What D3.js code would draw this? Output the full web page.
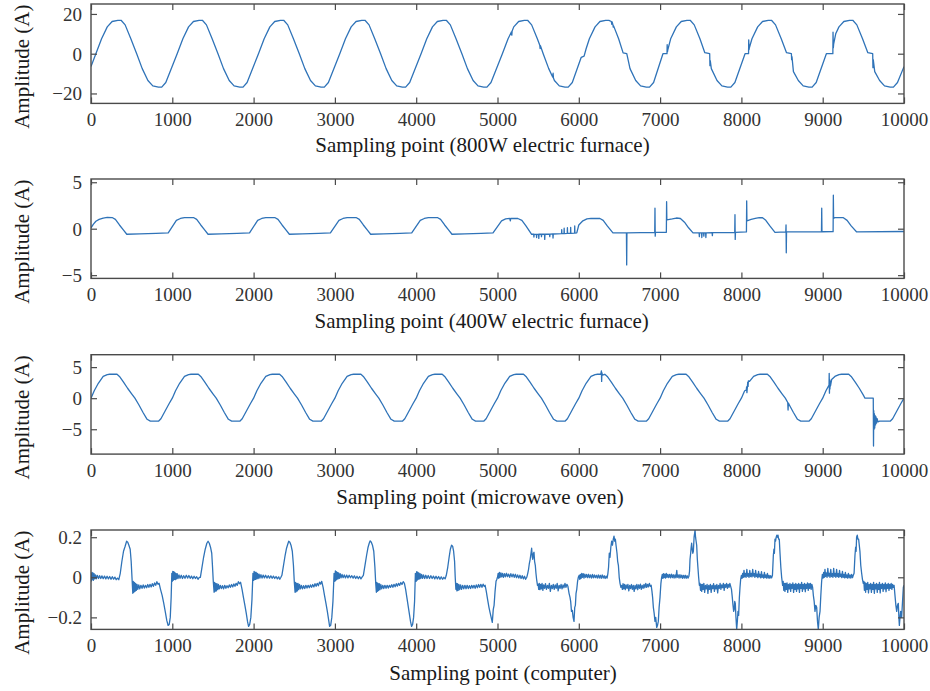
<!DOCTYPE html>
<html><head><meta charset="utf-8">
<script src="https://cdn.jsdelivr.net/npm/d3@7"></script>
<style>body{margin:0;background:#fff}svg{display:block}</style>
</head><body>
<svg id="chart" width="930" height="691"></svg>
<script>
// ---------- DATA ----------
const xTicks = [0,1000,2000,3000,4000,5000,6000,7000,8000,9000,10000];
const yLabel = "Amplitude (A)";
const xTitles = ["Sampling point (800W electric furnace)","Sampling point (400W electric furnace)","Sampling point (microwave oven)","Sampling point (computer)"];
const yTicks1 = [-20,0,20];
const yTicks2 = [-5,0,5];
const yTicks3 = [-5,0,5];
const yTicks4 = [-0.2,0,0.2];
const yDomains = [[-25,25],[-5.35,5.35],[-9,7],[-0.26,0.236]];

const furnace800 = [
[0,-6.5],[60,0],[130,7.5],[200,13.5],[260,16.2],[330,16.8],[370,16.8],[420,14.5],[490,7.5],[562,0],[630,-7.5],[700,-13.5],[760,-16.2],[830,-16.8],[870,-16.8],[920,-14.5],
[1060,0],[1130,7.5],[1200,13.5],[1260,16.2],[1330,16.8],[1370,16.8],[1420,14.5],[1490,7.5],[1562,0],[1630,-7.5],[1700,-13.5],[1760,-16.2],[1830,-16.8],[1870,-16.8],[1920,-14.5],
[2060,0],[2130,7.5],[2200,13.5],[2260,16.2],[2330,16.8],[2370,16.8],[2420,14.5],[2490,7.5],[2562,0],[2630,-7.5],[2700,-13.5],[2760,-16.2],[2830,-16.8],[2870,-16.8],[2920,-14.5],
[3060,0],[3130,7.5],[3200,13.5],[3260,16.2],[3330,16.8],[3370,16.8],[3420,14.5],[3490,7.5],[3562,0],[3630,-7.5],[3700,-13.5],[3760,-16.2],[3830,-16.8],[3870,-16.8],[3920,-14.5],
[4060,0],[4130,7.5],[4200,13.5],[4260,16.2],[4330,16.8],[4370,16.8],[4420,14.5],[4490,7.5],[4562,0],[4630,-7.5],[4700,-13.5],[4760,-16.2],[4830,-16.8],[4870,-16.8],[4920,-14.5],
[5060,0],[5130,7.5],[5172,11],[5176,9.3],[5180,11.4],[5200,13.5],[5260,16.2],[5330,16.8],[5370,16.8],[5420,14.5],[5490,7.5],[5520,4.3],[5524,2.6],[5528,4],[5562,0],[5630,-7.5],[5680,-11.8],[5684,-9.8],[5688,-12.2],[5700,-13.5],[5760,-16.2],[5830,-16.8],[5870,-16.8],[5920,-14.5],
[6030,-1.8],[6065,-1.2],[6090,2.5],[6130,7.5],[6200,13.5],[6260,16.2],[6330,16.8],[6370,16.8],[6400,16.2],[6405,14.8],[6410,16],[6420,14.5],[6424,13.4],[6428,14],[6490,7.5],[6545,0.4],[6590,0],[6630,-7.5],[6700,-13.5],[6760,-16.2],[6830,-16.8],[6870,-16.8],[6920,-14.5],
[7035,0],[7085,0],[7087,4.5],[7091,1],[7095,2],[7130,7.5],[7200,13.5],[7260,16.2],[7330,16.8],[7370,16.8],[7420,14.5],[7490,7.5],[7550,0.5],[7610,0],[7613,-6],[7617,-3.5],[7630,-7.5],[7700,-13.5],[7760,-16.2],[7830,-16.8],[7870,-16.8],[7920,-14.5],
[8045,0],[8088,0],[8090,7],[8094,2],[8098,3],[8130,7.5],[8200,13.5],[8260,16.2],[8330,16.8],[8370,16.8],[8420,14.5],[8490,7.5],[8555,0.5],[8615,0],[8618,-3],[8622,-1.5],[8640,-9],[8700,-13.5],[8760,-16.2],[8830,-16.8],[8870,-16.8],[8920,-14.5],
[9045,0],[9125,0],[9127,10.8],[9131,3],[9135,5],[9160,10],[9200,13.5],[9260,16.2],[9330,16.8],[9370,16.8],[9420,14.5],[9490,7.5],[9555,0.5],[9615,0],[9618,-7],[9622,-3],[9640,-9],[9700,-13.5],[9760,-16.2],[9830,-16.8],[9870,-16.8],[9920,-14.5],[10000,-6.5]
];

const furnace400 = [
[0,0.1],[30,0.5],[60,0.8],[100,1.0],[150,1.15],[200,1.22],[260,1.2],[300,1.0],[350,0.4],[400,-0.15],[440,-0.6],[600,-0.56],[800,-0.5],[950,-0.45],
[1050,0.9],[1100,1.1],[1150,1.2],[1260,1.2],[1300,1.0],[1350,0.4],[1400,-0.15],[1440,-0.6],[1600,-0.56],[1800,-0.5],[1950,-0.45],
[2050,0.9],[2100,1.1],[2150,1.2],[2260,1.2],[2300,1.0],[2350,0.4],[2400,-0.15],[2440,-0.6],[2600,-0.56],[2800,-0.5],[2945,-0.45],
[3050,0.9],[3100,1.1],[3150,1.2],[3260,1.2],[3300,1.0],[3350,0.4],[3400,-0.15],[3440,-0.6],[3600,-0.56],[3800,-0.5],[3945,-0.45],
[4050,0.9],[4100,1.1],[4150,1.2],[4260,1.2],[4300,1.0],[4350,0.4],[4400,-0.15],[4440,-0.6],[4600,-0.56],[4800,-0.5],[4945,-0.45],
[5050,0.85],[5100,1.05],[5150,1.12],[5158,0.85],[5162,1.12],[5250,1.1],[5300,0.9],[5350,0.3],[5420,-0.6],
[5445,-0.6],[5448,-0.9],[5451,-0.6],[5478,-0.62],[5481,-0.95],[5484,-0.62],[5505,-0.6],[5508,-1.05],[5511,-0.6],[5538,-0.6],[5541,-0.85],[5544,-0.6],[5578,-0.6],[5581,-1.15],[5584,-0.6],[5640,-0.58],[5643,-0.85],[5646,-0.58],[5680,-0.57],[5683,-1.0],[5686,-0.57],
[5788,-0.52],[5790,-0.1],[5792,-0.52],[5818,-0.52],[5820,0.05],[5822,-0.52],[5858,-0.5],[5860,0.1],[5862,-0.5],[5898,-0.5],[5900,0.15],[5902,-0.5],[5948,-0.48],[5950,0.3],[5952,-0.48],[5975,-0.45],
[6000,0.4],[6050,0.85],[6100,1.05],[6150,1.12],[6260,1.1],[6300,0.9],[6350,0.3],[6420,-0.45],
[6586,-0.45],[6589,-3.9],[6592,-0.45],[6934,-0.4],[6937,2.2],[6940,-0.8],[6943,-0.4],[7077,-0.38],[7080,2.9],[7083,0.95],[7150,1.05],[7200,1.15],[7250,1.1],[7300,0.7],[7350,0.1],[7405,-0.45],
[7480,-0.45],[7483,-0.85],[7486,-0.45],[7510,-0.45],[7513,-0.95],[7516,-0.45],[7535,-0.45],[7538,-0.8],[7541,-0.45],[7560,-0.45],[7563,-0.95],[7566,-0.45],[7640,-0.42],[7643,-0.75],[7646,-0.42],
[7918,-0.4],[7921,1.5],[7924,-1.15],[7927,-0.4],[8062,-0.35],[8065,3.0],[8068,0.85],[8120,1.0],[8170,1.1],[8220,1.2],[8260,1.18],[8300,0.9],[8350,0.3],[8413,-0.4],
[8546,-0.35],[8549,0.4],[8552,-2.6],[8555,-0.35],[8985,-0.33],[8988,2.2],[8991,-0.33],[9128,-0.32],[9131,3.6],[9134,1.1],[9150,1.2],[9250,1.2],[9300,0.9],[9350,0.3],[9418,-0.35],[10000,-0.3]
];

const microwave = [
[0,0],[40,1.2],[90,2.4],[150,3.5],[200,3.8],[230,3.85],[320,3.85],[350,3.5],[400,2.6],[450,1.6],[500,0.7],[540,0],[590,-1.1],[640,-2.3],[690,-3.4],[730,-3.7],[830,-3.7],[860,-3.3],[910,-2.1],[960,-0.9],
[1000,0],[1040,1.2],[1090,2.4],[1150,3.5],[1200,3.8],[1230,3.85],[1320,3.85],[1350,3.5],[1400,2.6],[1450,1.6],[1500,0.7],[1540,0],[1590,-1.1],[1640,-2.3],[1690,-3.4],[1730,-3.7],[1830,-3.7],[1860,-3.3],[1910,-2.1],[1960,-0.9],
[2000,0],[2040,1.2],[2090,2.4],[2150,3.5],[2200,3.8],[2230,3.85],[2320,3.85],[2350,3.5],[2400,2.6],[2450,1.6],[2500,0.7],[2540,0],[2590,-1.1],[2640,-2.3],[2690,-3.4],[2730,-3.7],[2830,-3.7],[2860,-3.3],[2910,-2.1],[2960,-0.9],
[3000,0],[3040,1.2],[3090,2.4],[3150,3.5],[3200,3.8],[3230,3.85],[3320,3.85],[3350,3.5],[3400,2.6],[3450,1.6],[3500,0.7],[3540,0],[3590,-1.1],[3640,-2.3],[3690,-3.4],[3730,-3.7],[3830,-3.7],[3860,-3.3],[3910,-2.1],[3960,-0.9],
[4000,0],[4040,1.2],[4090,2.4],[4150,3.5],[4200,3.8],[4230,3.85],[4320,3.85],[4350,3.5],[4400,2.6],[4450,1.6],[4500,0.7],[4540,0],[4590,-1.1],[4640,-2.3],[4690,-3.4],[4730,-3.7],[4830,-3.7],[4860,-3.3],[4910,-2.1],[4960,-0.9],
[5000,0],[5040,1.2],[5090,2.4],[5150,3.5],[5200,3.8],[5230,3.85],[5320,3.85],[5350,3.5],[5400,2.6],[5450,1.6],[5500,0.7],[5540,0],[5590,-1.1],[5640,-2.3],[5690,-3.4],[5730,-3.7],[5830,-3.7],[5860,-3.3],[5910,-2.1],[5960,-0.9],
[6000,0],[6040,1.2],[6090,2.4],[6150,3.5],[6200,3.8],[6230,3.85],[6270,3.85],[6278,4.4],[6281,2.7],[6284,4.1],[6290,3.7],[6320,3.85],[6350,3.5],[6400,2.6],[6450,1.6],[6500,0.7],[6540,0],[6590,-1.1],[6640,-2.3],[6690,-3.4],[6730,-3.7],[6830,-3.7],[6860,-3.3],[6910,-2.1],[6960,-0.9],
[7000,0],[7040,1.2],[7090,2.4],[7150,3.5],[7200,3.8],[7230,3.85],[7320,3.85],[7350,3.5],[7400,2.6],[7450,1.6],[7500,0.7],[7540,0],[7590,-1.1],[7640,-2.3],[7690,-3.4],[7730,-3.7],[7830,-3.7],[7860,-3.3],[7910,-2.1],[7960,-0.9],
[8000,0],[8040,1.2],[8060,1.3],[8064,1.8],[8068,0.9],[8078,2.6],[8082,1.9],[8086,2.8],[8100,2.7],[8150,3.5],[8200,3.8],[8230,3.85],[8320,3.85],[8350,3.5],[8400,2.6],[8450,1.6],[8500,0.7],[8540,0],[8570,-0.7],[8574,-1.9],[8578,-0.8],[8590,-1.1],[8640,-2.3],[8690,-3.4],[8730,-3.7],[8830,-3.7],[8860,-3.3],[8910,-2.1],[8960,-0.9],
[9000,0],[9040,1.2],[9078,2.1],[9080,4.0],[9083,0.8],[9086,3],[9089,1.5],[9092,2.8],[9096,2],[9110,3],[9150,3.5],[9200,3.8],[9230,3.85],[9320,3.85],[9350,3.5],[9400,2.6],[9450,1.6],[9500,0.5],[9520,0],[9622,0],[9625,-7.7],[9628,-2],[9632,-5],[9636,-2.5],[9640,-4.8],[9645,-2.8],[9650,-4.3],[9656,-3],[9662,-4],[9670,-3.3],[9680,-3.8],[9700,-3.7],[9830,-3.7],[9860,-3.3],[9910,-2.1],[9960,-0.9],[10000,0]
];

const computer = [
[0,0.02],[6,-0.018],[12,0.025],[18,-0.012],[24,0.022],[30,-0.015],[38,0.018],[46,-0.008],[55,0.012],[65,-0.008],[78,0.01],[92,-0.006],[106,0.008],[120,-0.006],[135,0.007],[150,-0.007],[166,0.006],[182,-0.008],[198,0.005],[214,-0.008],[230,0.004],[246,-0.01],[262,0.003],[278,-0.009],[294,0.001],[310,-0.012],[326,-0.004],[342,-0.012],
[360,0.02],[380,0.08],[400,0.13],[420,0.155],[438,0.18],[452,0.175],[466,0.16],[482,0.14],[494,0.08],[504,0.0],[514,-0.08],
[520,-0.02],[527,-0.075],[534,-0.025],[541,-0.07],[549,-0.03],[557,-0.065],[566,-0.035],[576,-0.06],[588,-0.038],[600,-0.058],[614,-0.04],[628,-0.055],[642,-0.038],[656,-0.054],[670,-0.04],[684,-0.052],[698,-0.036],[712,-0.05],[726,-0.035],[740,-0.048],[754,-0.032],[768,-0.045],[782,-0.028],[796,-0.04],[810,-0.022],[824,-0.035],[838,-0.03],
[855,-0.06],[875,-0.09],[895,-0.13],[915,-0.175],[932,-0.215],[948,-0.24],[962,-0.235],[975,-0.2],[986,-0.1],[994,0.02],
[1000,-0.02],[1006,0.03],[1012,-0.015],[1018,0.028],[1024,-0.01],[1030,0.025],[1037,-0.012],[1044,0.02],[1052,-0.008],[1060,0.018],[1070,-0.006],[1082,0.012],[1095,-0.005],[1110,0.01],[1125,-0.006],[1140,0.008],[1156,-0.005],[1172,0.01],[1188,-0.004],[1204,0.009],[1220,-0.005],[1236,0.006],[1252,-0.007],[1268,0.005],[1284,-0.006],[1300,0.003],[1316,-0.01],[1332,0.0],
[1345,0.0],[1365,0.05],[1385,0.1],[1405,0.14],[1425,0.17],[1440,0.18],[1455,0.17],[1470,0.15],[1485,0.12],[1495,0.05],[1504,-0.02],[1514,-0.075],
[1520,-0.025],[1527,-0.07],[1534,-0.03],[1542,-0.068],[1550,-0.032],[1559,-0.062],[1568,-0.036],[1578,-0.058],[1590,-0.04],[1603,-0.056],[1617,-0.042],[1631,-0.058],[1645,-0.04],[1659,-0.055],[1673,-0.042],[1687,-0.052],[1701,-0.038],[1715,-0.05],[1729,-0.036],[1743,-0.048],[1757,-0.033],[1771,-0.045],[1785,-0.03],[1799,-0.04],[1813,-0.022],[1827,-0.032],[1840,-0.025],
[1858,-0.06],[1875,-0.1],[1893,-0.14],[1910,-0.18],[1925,-0.22],[1938,-0.245],[1952,-0.235],[1966,-0.2],[1980,-0.11],[1992,0.02],
[2000,-0.015],[2006,0.03],[2012,-0.012],[2018,0.026],[2025,-0.01],[2032,0.024],[2040,-0.008],[2048,0.02],[2057,-0.006],[2067,0.016],[2078,-0.004],[2090,0.013],[2104,-0.004],[2118,0.011],[2133,-0.003],[2148,0.01],[2164,-0.004],[2180,0.008],[2196,-0.004],[2212,0.007],[2228,-0.005],[2244,0.006],[2260,-0.006],[2276,0.004],[2292,-0.008],[2308,0.002],[2322,-0.01],[2336,0.0],
[2348,0.01],[2368,0.06],[2388,0.11],[2405,0.145],[2420,0.165],[2432,0.18],[2446,0.175],[2460,0.16],[2476,0.13],[2490,0.06],[2500,-0.02],[2510,-0.075],
[2516,-0.025],[2523,-0.072],[2530,-0.03],[2538,-0.068],[2546,-0.03],[2555,-0.062],[2565,-0.035],[2576,-0.058],[2588,-0.04],[2601,-0.058],[2615,-0.042],[2629,-0.056],[2643,-0.04],[2657,-0.054],[2671,-0.04],[2685,-0.052],[2699,-0.038],[2713,-0.05],[2727,-0.036],[2741,-0.048],[2755,-0.032],[2769,-0.045],[2783,-0.03],[2797,-0.042],[2811,-0.024],[2825,-0.034],[2838,-0.02],
[2855,-0.05],[2872,-0.09],[2890,-0.13],[2907,-0.17],[2922,-0.21],[2935,-0.245],[2948,-0.24],[2962,-0.2],[2976,-0.12],[2990,0.02],
[3000,-0.02],[3006,0.032],[3012,-0.015],[3018,0.028],[3024,-0.01],[3031,0.025],[3038,-0.008],[3046,0.022],[3055,-0.005],[3065,0.018],[3076,-0.003],[3088,0.014],[3101,-0.002],[3115,0.012],[3130,-0.003],[3145,0.011],[3160,-0.003],[3176,0.01],[3192,-0.002],[3208,0.008],[3224,-0.004],[3240,0.007],[3256,-0.006],[3272,0.005],[3288,-0.007],[3304,0.004],[3320,-0.008],[3336,0.002],
[3350,0.01],[3370,0.06],[3390,0.11],[3408,0.15],[3422,0.17],[3434,0.182],[3448,0.175],[3462,0.16],[3478,0.13],[3492,0.05],[3502,-0.03],[3510,-0.075],
[3516,-0.025],[3523,-0.07],[3530,-0.03],[3538,-0.066],[3546,-0.032],[3555,-0.062],[3565,-0.036],[3576,-0.058],[3588,-0.04],[3601,-0.056],[3615,-0.04],[3629,-0.055],[3643,-0.04],[3657,-0.054],[3671,-0.04],[3685,-0.05],[3699,-0.037],[3713,-0.05],[3727,-0.035],[3741,-0.047],[3755,-0.032],[3769,-0.044],[3783,-0.03],[3797,-0.04],[3811,-0.026],[3825,-0.036],[3840,-0.022],[3855,-0.03],
[3870,-0.06],[3885,-0.1],[3900,-0.14],[3915,-0.18],[3930,-0.22],[3943,-0.245],[3956,-0.235],[3968,-0.2],[3980,-0.12],[3990,0.02],
[4000,-0.02],[4006,0.028],[4012,-0.014],[4018,0.026],[4025,-0.01],[4032,0.022],[4040,-0.008],[4048,0.018],[4057,-0.006],[4067,0.015],[4078,-0.005],[4090,0.012],[4104,-0.006],[4118,0.01],[4133,-0.006],[4148,0.009],[4164,-0.006],[4180,0.008],[4196,-0.006],[4212,0.006],[4228,-0.008],[4244,0.005],[4260,-0.008],[4276,0.004],[4292,-0.01],[4308,0.002],[4324,-0.01],[4340,0.0],[4356,-0.008],
[4370,0.01],[4388,0.05],[4405,0.1],[4420,0.14],[4435,0.16],[4448,0.155],[4460,0.13],[4472,0.08],[4480,0.0],[4488,-0.06],
[4494,-0.03],[4501,-0.068],[4508,-0.032],[4516,-0.065],[4525,-0.035],[4535,-0.062],[4546,-0.038],[4558,-0.06],[4571,-0.04],[4585,-0.058],[4599,-0.04],[4613,-0.057],[4627,-0.04],[4641,-0.056],[4655,-0.042],[4669,-0.056],[4683,-0.04],[4697,-0.054],[4711,-0.04],[4725,-0.055],[4739,-0.038],[4753,-0.052],[4767,-0.036],[4781,-0.05],[4795,-0.035],[4809,-0.05],[4823,-0.034],[4837,-0.046],[4848,-0.04],
[4862,-0.07],[4878,-0.11],[4895,-0.15],[4908,-0.175],[4922,-0.2],[4936,-0.225],[4948,-0.16],[4958,-0.14],[4970,-0.07],[4982,-0.02],[4992,-0.01],
[5000,0.0],[5008,0.02],[5016,-0.005],[5024,0.025],[5032,0.0],[5042,0.022],[5052,0.002],[5062,0.02],[5073,0.0],[5085,0.018],[5097,0.002],[5110,0.02],[5123,0.003],[5136,0.016],[5150,0.0],[5164,0.018],[5178,0.002],[5192,0.016],[5206,0.0],[5220,0.015],[5234,-0.002],[5248,0.012],[5262,-0.004],[5276,0.01],[5290,-0.006],[5304,0.008],[5318,-0.008],[5332,0.005],[5346,-0.01],[5360,0.0],
[5372,0.02],[5382,0.04],[5392,0.07],[5402,0.09],[5412,0.12],[5420,0.145],[5428,0.1],[5434,0.09],[5442,0.12],[5449,0.125],[5456,0.08],[5465,0.06],[5473,0.02],[5481,-0.01],[5492,-0.04],
[5500,-0.035],[5507,-0.06],[5514,-0.03],[5522,-0.062],[5530,-0.035],[5539,-0.058],[5548,-0.03],[5558,-0.065],[5568,-0.038],[5579,-0.055],[5590,-0.032],[5602,-0.06],[5614,-0.04],[5626,-0.055],[5638,-0.03],[5650,-0.07],[5662,-0.04],[5674,-0.056],[5686,-0.035],[5698,-0.06],[5710,-0.038],[5722,-0.055],[5734,-0.03],[5746,-0.068],[5758,-0.04],[5770,-0.055],[5782,-0.035],[5794,-0.058],[5806,-0.038],[5818,-0.052],[5830,-0.03],[5842,-0.05],[5854,-0.035],[5866,-0.045],
[5880,-0.08],[5892,-0.1],[5900,-0.12],[5910,-0.17],[5920,-0.165],[5930,-0.2],[5941,-0.22],[5950,-0.15],[5958,-0.14],[5966,-0.08],[5975,-0.06],[5985,-0.02],[5994,0.0],
[6005,0.01],[6012,-0.01],[6020,0.015],[6028,-0.005],[6036,0.02],[6045,0.0],[6054,0.018],[6064,-0.004],[6074,0.016],[6085,0.0],[6096,0.014],[6108,-0.002],[6120,0.015],[6132,-0.002],[6144,0.012],[6156,-0.004],[6168,0.014],[6180,-0.003],[6192,0.012],[6204,-0.002],[6216,0.01],[6228,-0.004],[6240,0.012],[6252,-0.004],[6264,0.01],[6276,-0.005],[6288,0.012],[6300,-0.004],[6312,0.008],[6324,-0.006],[6336,0.006],[6348,-0.004],
[6358,0.02],[6366,0.05],[6375,0.12],[6384,0.1],[6394,0.15],[6404,0.18],[6414,0.16],[6424,0.19],[6433,0.205],[6442,0.18],[6450,0.19],[6458,0.16],[6470,0.12],[6478,0.08],[6487,0.06],[6497,0.0],[6507,-0.03],[6518,-0.05],
[6528,-0.04],[6536,-0.06],[6544,-0.032],[6553,-0.058],[6562,-0.035],[6572,-0.062],[6582,-0.038],[6593,-0.055],[6604,-0.035],[6615,-0.068],[6626,-0.04],[6637,-0.056],[6648,-0.036],[6659,-0.06],[6670,-0.04],[6681,-0.07],[6692,-0.04],[6703,-0.058],[6714,-0.035],[6725,-0.062],[6736,-0.038],[6747,-0.055],[6758,-0.034],[6769,-0.06],[6780,-0.04],[6791,-0.055],[6802,-0.035],[6813,-0.052],[6824,-0.03],[6835,-0.05],[6846,-0.035],[6857,-0.048],[6868,-0.03],[6879,-0.045],[6890,-0.04],
[6900,-0.07],[6908,-0.1],[6917,-0.15],[6927,-0.18],[6937,-0.22],[6946,-0.2],[6958,-0.25],[6968,-0.24],[6978,-0.22],[6988,-0.15],[6999,-0.1],[7010,-0.03],[7019,0.0],
[7027,0.015],[7034,-0.005],[7042,0.018],[7050,-0.002],[7058,0.016],[7067,-0.004],[7076,0.02],[7086,0.0],[7096,0.015],[7106,-0.002],[7117,0.014],[7128,-0.003],[7139,0.016],[7150,-0.002],[7161,0.013],[7172,-0.004],[7183,0.012],[7194,-0.003],[7205,0.035],[7212,0.0],[7222,0.012],[7233,-0.004],[7244,0.013],[7255,-0.003],[7266,0.011],[7277,-0.005],[7288,0.01],[7299,-0.004],[7310,0.01],[7321,-0.005],[7332,0.008],[7343,-0.004],[7354,0.005],
[7362,0.03],[7368,0.09],[7376,0.12],[7382,0.15],[7388,0.17],[7395,0.14],[7402,0.12],[7409,0.13],[7418,0.2],[7425,0.22],[7430,0.235],[7436,0.2],[7443,0.18],[7450,0.16],[7458,0.09],[7465,0.05],[7474,0.0],[7483,-0.04],
[7490,-0.03],[7497,-0.065],[7504,-0.035],[7512,-0.07],[7520,-0.035],[7529,-0.06],[7538,-0.03],[7548,-0.075],[7558,-0.04],[7568,-0.058],[7578,-0.035],[7588,-0.08],[7598,-0.04],[7608,-0.06],[7618,-0.035],[7628,-0.075],[7638,-0.04],[7648,-0.056],[7658,-0.032],[7668,-0.07],[7678,-0.04],[7688,-0.058],[7698,-0.035],[7708,-0.078],[7718,-0.04],[7728,-0.055],[7738,-0.03],[7748,-0.06],[7758,-0.038],[7768,-0.052],[7778,-0.03],[7788,-0.065],[7798,-0.035],[7808,-0.05],[7818,-0.03],[7828,-0.055],[7838,-0.035],[7848,-0.05],[7858,-0.03],[7868,-0.045],[7878,-0.06],
[7888,-0.1],[7897,-0.14],[7905,-0.17],[7912,-0.16],[7918,-0.12],[7925,-0.13],[7933,-0.2],[7942,-0.26],[7950,-0.22],[7958,-0.17],[7966,-0.19],[7975,-0.1],[7983,-0.05],[7991,-0.01],
[8000,0.01],[8008,-0.005],[8016,0.02],[8024,0.0],[8032,0.035],[8040,0.002],[8049,0.02],[8058,0.0],[8067,0.04],[8076,0.005],[8085,0.018],[8094,0.0],[8103,0.035],[8112,0.004],[8121,0.02],[8130,0.002],[8139,0.04],[8148,0.006],[8157,0.018],[8166,0.0],[8175,0.035],[8184,0.004],[8193,0.016],[8202,-0.002],[8211,0.03],[8220,0.002],[8229,0.015],[8238,-0.003],[8247,0.028],[8256,0.0],[8265,0.012],[8274,-0.004],[8283,0.025],[8292,-0.002],[8301,0.012],[8310,-0.004],[8320,0.02],[8330,-0.004],[8340,0.01],[8350,-0.005],[8360,0.008],[8372,-0.003],[8382,0.01],
[8393,0.11],[8400,0.14],[8406,0.12],[8413,0.19],[8420,0.18],[8428,0.2],[8436,0.21],[8442,0.2],[8450,0.21],[8458,0.19],[8466,0.19],[8475,0.12],[8485,0.05],[8495,0.0],[8507,-0.04],
[8514,-0.02],[8521,-0.065],[8528,-0.03],[8536,-0.07],[8544,-0.03],[8552,-0.06],[8561,-0.028],[8570,-0.075],[8579,-0.035],[8588,-0.058],[8597,-0.03],[8606,-0.07],[8615,-0.035],[8624,-0.055],[8633,-0.028],[8642,-0.075],[8651,-0.035],[8660,-0.06],[8669,-0.03],[8678,-0.07],[8687,-0.035],[8696,-0.058],[8705,-0.03],[8714,-0.075],[8723,-0.035],[8732,-0.055],[8741,-0.025],[8750,-0.07],[8759,-0.035],[8768,-0.058],[8777,-0.03],[8786,-0.072],[8795,-0.035],[8804,-0.055],[8813,-0.028],[8822,-0.065],[8831,-0.032],[8840,-0.055],[8849,-0.03],[8858,-0.06],[8867,-0.035],[8876,-0.05],
[8885,-0.09],[8895,-0.12],[8905,-0.17],[8915,-0.14],[8926,-0.15],[8936,-0.22],[8946,-0.26],[8956,-0.2],[8967,-0.17],[8977,-0.09],[8987,-0.02],
[8996,0.015],[9004,-0.004],[9012,0.025],[9020,0.0],[9028,0.04],[9036,0.004],[9045,0.022],[9054,0.0],[9063,0.045],[9072,0.006],[9081,0.02],[9090,0.0],[9099,0.04],[9108,0.004],[9117,0.018],[9126,0.0],[9135,0.045],[9144,0.005],[9153,0.02],[9162,0.0],[9171,0.04],[9180,0.004],[9189,0.018],[9198,0.0],[9207,0.035],[9216,0.003],[9225,0.016],[9234,-0.002],[9243,0.03],[9252,0.0],[9261,0.014],[9270,-0.003],[9279,0.025],[9288,-0.002],[9297,0.012],[9306,-0.004],[9316,0.02],[9326,-0.003],[9336,0.012],[9346,-0.004],[9356,0.015],[9366,-0.002],[9376,0.01],[9386,0.02],
[9397,0.11],[9405,0.15],[9411,0.13],[9417,0.2],[9425,0.21],[9433,0.19],[9442,0.19],[9450,0.16],[9458,0.13],[9468,0.06],[9479,0.02],[9489,-0.01],[9499,-0.03],
[9506,-0.02],[9513,-0.065],[9520,-0.025],[9528,-0.075],[9536,-0.03],[9545,-0.06],[9554,-0.025],[9563,-0.078],[9572,-0.035],[9581,-0.058],[9590,-0.03],[9599,-0.075],[9608,-0.035],[9617,-0.06],[9626,-0.025],[9635,-0.08],[9644,-0.035],[9653,-0.058],[9662,-0.03],[9671,-0.075],[9680,-0.035],[9689,-0.06],[9698,-0.025],[9707,-0.078],[9716,-0.035],[9725,-0.055],[9734,-0.03],[9743,-0.07],[9752,-0.035],[9761,-0.058],[9770,-0.028],[9779,-0.072],[9788,-0.035],[9797,-0.055],[9806,-0.03],[9815,-0.065],[9824,-0.035],[9833,-0.055],[9842,-0.03],[9851,-0.06],[9860,-0.035],[9869,-0.05],[9878,-0.04],
[9889,-0.09],[9900,-0.14],[9910,-0.17],[9920,-0.14],[9930,-0.13],[9937,-0.2],[9943,-0.24],[9951,-0.2],[9959,-0.17],[9965,-0.2],[9971,-0.2],[9982,-0.12],[9992,-0.05],[10000,-0.04]
];

// ---------- LAYOUT ----------
const series = [furnace800, furnace400, microwave, computer];
const yTickSets = [yTicks1, yTicks2, yTicks3, yTicks4];
const panelTops = [4, 179, 354.7, 530];
const panelH = 99.4;
const left = 91, right = 904;
const titleCx = [482.5, 481.7, 480, 503];
const titleDy = [48.5, 50, 49.7, 51];
const lineColor = "#2f73b8";
const axisColor = "#4a4a4a";
const fontFam = "'Liberation Serif','Times New Roman',serif";

const svg = d3.select("#chart");
const fmt = v => (v < 0 ? "\u2212" + Math.abs(v) : String(v));

series.forEach((data, i) => {
  const top = panelTops[i], bottom = top + panelH;
  const x = d3.scaleLinear().domain([0, 10000]).range([left, right]);
  const y = d3.scaleLinear().domain(yDomains[i]).range([bottom, top]);
  const g = svg.append("g");
  const clipId = "clip" + i;
  svg.append("clipPath").attr("id", clipId).append("rect")
    .attr("x", left).attr("y", top).attr("width", right - left).attr("height", panelH);

  // line
  g.append("path").datum(data)
    .attr("clip-path", `url(#${clipId})`)
    .attr("fill", "none").attr("stroke", lineColor).attr("stroke-width", 1.3)
    .attr("stroke-linejoin", "round")
    .attr("d", d3.line().x(d => x(d[0])).y(d => y(d[1])));

  const tickLen = 6;
  // axes (inward ticks on all four sides)
  const axB = g.append("g").attr("transform", `translate(0,${bottom})`)
    .call(d3.axisBottom(x).tickValues(xTicks).tickSize(-tickLen).tickPadding(9).tickFormat(d => String(d)));
  const axT = g.append("g").attr("transform", `translate(0,${top})`)
    .call(d3.axisTop(x).tickValues(xTicks).tickSize(-tickLen).tickFormat(""));
  const axL = g.append("g").attr("transform", `translate(${left},0)`)
    .call(d3.axisLeft(y).tickValues(yTickSets[i]).tickSize(-tickLen).tickPadding(9).tickFormat(fmt));
  const axR = g.append("g").attr("transform", `translate(${right},0)`)
    .call(d3.axisRight(y).tickValues(yTickSets[i]).tickSize(-tickLen).tickFormat(""));
  [axB, axT, axL, axR].forEach(a => {
    a.select(".domain").remove();
    a.selectAll(".tick line").attr("stroke", axisColor).attr("stroke-width", 1.2);
    a.selectAll("text").attr("font-family", fontFam).attr("font-size", 19).attr("fill", "#333");
  });
  axB.selectAll("text").attr("dy", null).attr("y", 22.5).attr("dominant-baseline", "auto");
  axL.selectAll("text").attr("dy", "0.34em");

  // box
  g.append("rect").attr("x", left).attr("y", top).attr("width", right - left).attr("height", panelH)
    .attr("fill", "none").attr("stroke", axisColor).attr("stroke-width", 1.4);

  // titles
  g.append("text").attr("x", titleCx[i]).attr("y", bottom + titleDy[i])
    .attr("text-anchor", "middle").attr("font-family", fontFam).attr("font-size", 21).attr("fill", "#1a1a1a")
    .text(xTitles[i]);
  const cy = (top + bottom) / 2 + 13;
  g.append("text").attr("transform", `translate(29,${cy}) rotate(-90)`)
    .attr("text-anchor", "middle").attr("font-family", fontFam).attr("font-size", 21).attr("fill", "#1a1a1a")
    .text(yLabel);
});
</script>
</body></html>
